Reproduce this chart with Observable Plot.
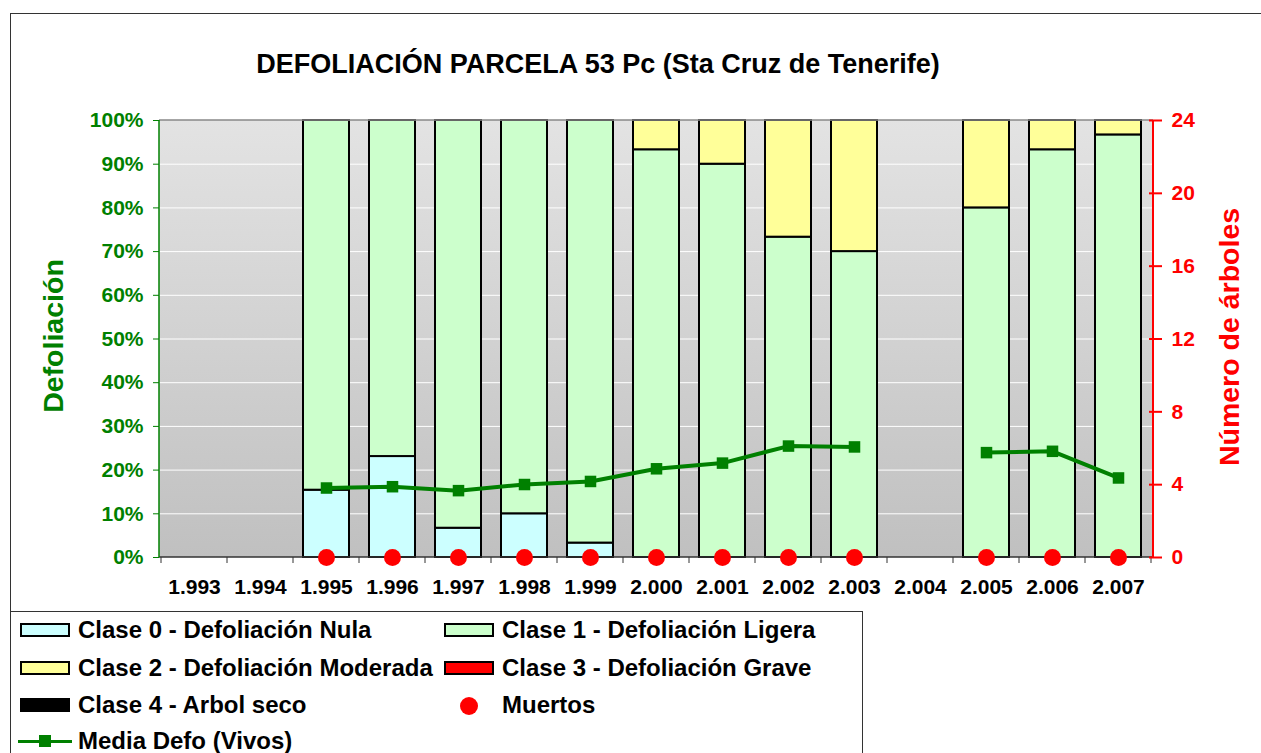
<!DOCTYPE html>
<html>
<head>
<meta charset="utf-8">
<script src="https://cdn.jsdelivr.net/npm/d3@7"></script>
<script src="https://cdn.jsdelivr.net/npm/@observablehq/plot@0.6"></script>
<style>
  html, body { margin: 0; padding: 0; background: #fff; }
  body { font-family: "Liberation Sans", Arial, sans-serif; font-weight: bold; }
  #wrap { position: relative; width: 1261px; height: 753px; overflow: hidden; }
  #outer { position: absolute; left: 10px; top: 13px; width: 1400px; height: 900px; border: 1px solid #333; box-sizing: border-box; }
  #chart { position: absolute; left: 0; top: 0; }
  #title { position: absolute; left: 0; top: 51px; width: 1196px; text-align: center; font-size: 27px; line-height: 27px; color: #000; white-space: nowrap; }
  .ytitle { position: absolute; font-size: 28.5px; line-height: 28.5px; white-space: nowrap; transform: translate(-50%, -50%) rotate(-90deg); }
  #legend { position: absolute; left: 10px; top: 611px; width: 853px; height: 200px; border: 1px solid #333; background: #fff; box-sizing: border-box; }
  .ltext { position: absolute; font-size: 24px; line-height: 24px; white-space: nowrap; color: #000; }
  .lswatch { position: absolute; width: 50px; height: 14px; border: 2px solid #000; box-sizing: border-box; }
</style>
</head>
<body>
<div id="wrap">
  <div id="outer"></div>
  <div id="chart"></div>
  <div id="title">DEFOLIACIÓN PARCELA 53 Pc (Sta Cruz de Tenerife)</div>
  <div class="ytitle" style="left:53px; top:336px; color:#008000;">Defoliación</div>
  <div class="ytitle" style="left:1229px; top:337px; color:#ff0000;">Número de árboles</div>
  <div id="legend"></div>
</div>
<script>
// ---- Data ----
const years = ["1.993","1.994","1.995","1.996","1.997","1.998","1.999","2.000","2.001","2.002","2.003","2.004","2.005","2.006","2.007"];
const clase0 = [null, null, 15.4, 23.1, 6.7, 10.0, 3.3, 0, 0, 0, 0, null, 0, 0, 0];
const clase1 = [null, null, 84.6, 76.9, 93.3, 90.0, 96.7, 93.3, 90.0, 73.3, 70.0, null, 80.0, 93.3, 96.7];
const clase2 = [null, null, 0, 0, 0, 0, 0, 6.7, 10.0, 26.7, 30.0, null, 20.0, 6.7, 3.3];
const clase3 = [null, null, 0, 0, 0, 0, 0, 0, 0, 0, 0, null, 0, 0, 0];
const clase4 = [null, null, 0, 0, 0, 0, 0, 0, 0, 0, 0, null, 0, 0, 0];
const mediaDefo = [null, null, 15.9, 16.2, 15.3, 16.7, 17.4, 20.3, 21.6, 25.5, 25.3, null, 24.0, 24.3, 18.2];
const muertos = [null, null, 0, 0, 0, 0, 0, 0, 0, 0, 0, null, 0, 0, 0];
const leftTicks = [0, 10, 20, 30, 40, 50, 60, 70, 80, 90, 100];
const rightTicks = [0, 4, 8, 12, 16, 20, 24];
const rightMax = 24;

const classNames = ["Clase 0 - Defoliación Nula", "Clase 1 - Defoliación Ligera", "Clase 2 - Defoliación Moderada", "Clase 3 - Defoliación Grave", "Clase 4 - Arbol seco"];
const classColors = ["#ccffff", "#ccffcc", "#ffff99", "#ff0000", "#000000"];
const classSeries = [clase0, clase1, clase2, clase3, clase4];

// ---- Build tables ----
const barRows = [];
classSeries.forEach((series, ci) => {
  series.forEach((v, i) => {
    if (v != null && v > 0) barRows.push({year: years[i], cls: classNames[ci], value: v});
  });
});
const lineRows = years.map((y, i) => ({year: y, value: mediaDefo[i]}));
const deadRows = years.map((y, i) => ({year: y, value: muertos[i]})).filter(d => d.value != null);

// ---- Custom render marks ----
function background(index, scales, values, dim) {
  const g = d3.create("svg:g");
  const defs = g.append("defs");
  const lg = defs.append("linearGradient").attr("id", "bgGrad").attr("x1", 0).attr("y1", 0).attr("x2", 0).attr("y2", 1);
  lg.append("stop").attr("offset", "0%").attr("stop-color", "#e3e3e3");
  lg.append("stop").attr("offset", "100%").attr("stop-color", "#c0c0c0");
  g.append("rect")
    .attr("x", dim.marginLeft).attr("y", dim.marginTop)
    .attr("width", dim.width - dim.marginLeft - dim.marginRight)
    .attr("height", dim.height - dim.marginTop - dim.marginBottom)
    .attr("fill", "url(#bgGrad)");
  return g.node();
}

function frameLines(index, scales, values, dim) {
  const g = d3.create("svg:g");
  const x0 = dim.marginLeft, x1 = dim.width - dim.marginRight;
  const y0 = dim.marginTop, y1 = dim.height - dim.marginBottom;
  const x = scales.x;
  const bw = typeof x.bandwidth === "function" ? x.bandwidth() : 0;
  const step = typeof x.step === "function" ? x.step() : (x(years[1]) - x(years[0]));
  g.append("line").attr("x1", x0).attr("x2", x1).attr("y1", y0).attr("y2", y0).attr("stroke", "#888").attr("stroke-width", 1.5);
  g.append("line").attr("x1", x0).attr("x2", x1).attr("y1", y1).attr("y2", y1).attr("stroke", "#333").attr("stroke-width", 1.5);
  const bounds = years.map(yr => x(yr) + bw / 2 - step / 2);
  bounds.push(x(years[years.length - 1]) + bw / 2 + step / 2);
  bounds.forEach(bx => {
    g.append("line").attr("x1", bx).attr("x2", bx).attr("y1", y1).attr("y2", y1 + 6).attr("stroke", "#333").attr("stroke-width", 1);
  });
  g.append("line").attr("x1", x0).attr("x2", x0).attr("y1", y0).attr("y2", y1).attr("stroke", "#008000").attr("stroke-width", 1.5);
  g.append("line").attr("x1", x1).attr("x2", x1).attr("y1", y0).attr("y2", y1).attr("stroke", "#ff0000").attr("stroke-width", 2);
  return g.node();
}

const font = "'Liberation Sans', Arial, sans-serif";

const chart = Plot.plot({
  width: 1261,
  height: 611,
  marginLeft: 159,
  marginRight: 108,
  marginTop: 120,
  marginBottom: 54,
  style: {background: "transparent", fontFamily: font, fontWeight: "bold", overflow: "visible"},
  x: {type: "band", domain: years, paddingInner: 0.3, paddingOuter: 0.15, label: null},
  y: {domain: [0, 100], label: null},
  color: {domain: classNames, range: classColors},
  marks: [
    background,
    Plot.gridY(leftTicks.filter(t => t > 0 && t < 100), {stroke: "#ffffff", strokeOpacity: 1, strokeWidth: 1}),
    Plot.barY(barRows, {x: "year", y: "value", fill: "cls", stroke: "#000", strokeWidth: 2, order: null}),
    frameLines,
    Plot.line(lineRows, {x: "year", y: "value", stroke: "#008000", strokeWidth: 4}),
    Plot.dot(lineRows.filter(d => d.value != null), {x: "year", y: "value", symbol: "square", r: 6.5, fill: "#008000", stroke: null}),
    Plot.dot(deadRows, {x: "year", y: d => d.value / rightMax * 100, r: 8.5, fill: "#ff0000", stroke: null}),
    Plot.axisY(leftTicks, {anchor: "left", tickSize: 6, tickPadding: 10, color: "#008000", fontSize: 21, fontWeight: "bold", fontFamily: font, tickFormat: d => d + "%", label: null}),
    Plot.axisY(rightTicks.map(t => t / rightMax * 100), {anchor: "right", tickSize: 13, dx: -5, tickPadding: 10, color: "#ff0000", strokeWidth: 2, fontSize: 21, fontWeight: "bold", fontFamily: font, tickFormat: d => String(Math.round(d / 100 * rightMax)), label: null}),
    Plot.axisX({anchor: "bottom", tickSize: 0, tickPadding: 22, color: "#000", fontSize: 21, fontWeight: "bold", fontFamily: font, label: null})
  ]
});
document.getElementById("chart").appendChild(chart);

// ---- Legend ----
const legend = document.getElementById("wrap");
const legendItems = [
  {kind: "box", label: classNames[0], color: classColors[0], col: 0, row: 0},
  {kind: "box", label: classNames[1], color: classColors[1], col: 1, row: 0},
  {kind: "box", label: classNames[2], color: classColors[2], col: 0, row: 1},
  {kind: "box", label: classNames[3], color: classColors[3], col: 1, row: 1},
  {kind: "box", label: classNames[4], color: classColors[4], col: 0, row: 2},
  {kind: "dot", label: "Muertos", color: "#ff0000", col: 1, row: 2},
  {kind: "line", label: "Media Defo (Vivos)", color: "#008000", col: 0, row: 3}
];
const rowCenters = [630, 668, 705, 741];
const colSwatchX = [20, 444];
const colTextX = [78, 502];
legendItems.forEach(it => {
  const cy = rowCenters[it.row];
  if (it.kind === "box") {
    const s = document.createElement("div");
    s.className = "lswatch";
    s.style.left = colSwatchX[it.col] + "px";
    s.style.top = (cy - 7) + "px";
    s.style.background = it.color;
    legend.appendChild(s);
  } else if (it.kind === "dot") {
    const s = document.createElement("div");
    s.style.cssText = `position:absolute;left:${colSwatchX[it.col] + 25 - 9}px;top:${cy + 1 - 9}px;width:18px;height:18px;border-radius:50%;background:${it.color};`;
    legend.appendChild(s);
  } else {
    const l = document.createElement("div");
    l.style.cssText = `position:absolute;left:18px;top:${cy - 1.5}px;width:54px;height:3px;background:${it.color};`;
    legend.appendChild(l);
    const sq = document.createElement("div");
    sq.style.cssText = `position:absolute;left:39px;top:${cy - 6}px;width:12px;height:12px;background:${it.color};`;
    legend.appendChild(sq);
  }
  const t = document.createElement("div");
  t.className = "ltext";
  t.textContent = it.label;
  t.style.left = colTextX[it.col] + "px";
  t.style.top = (cy + 8 - 20.3) + "px";
  legend.appendChild(t);
});
</script>
</body>
</html>
